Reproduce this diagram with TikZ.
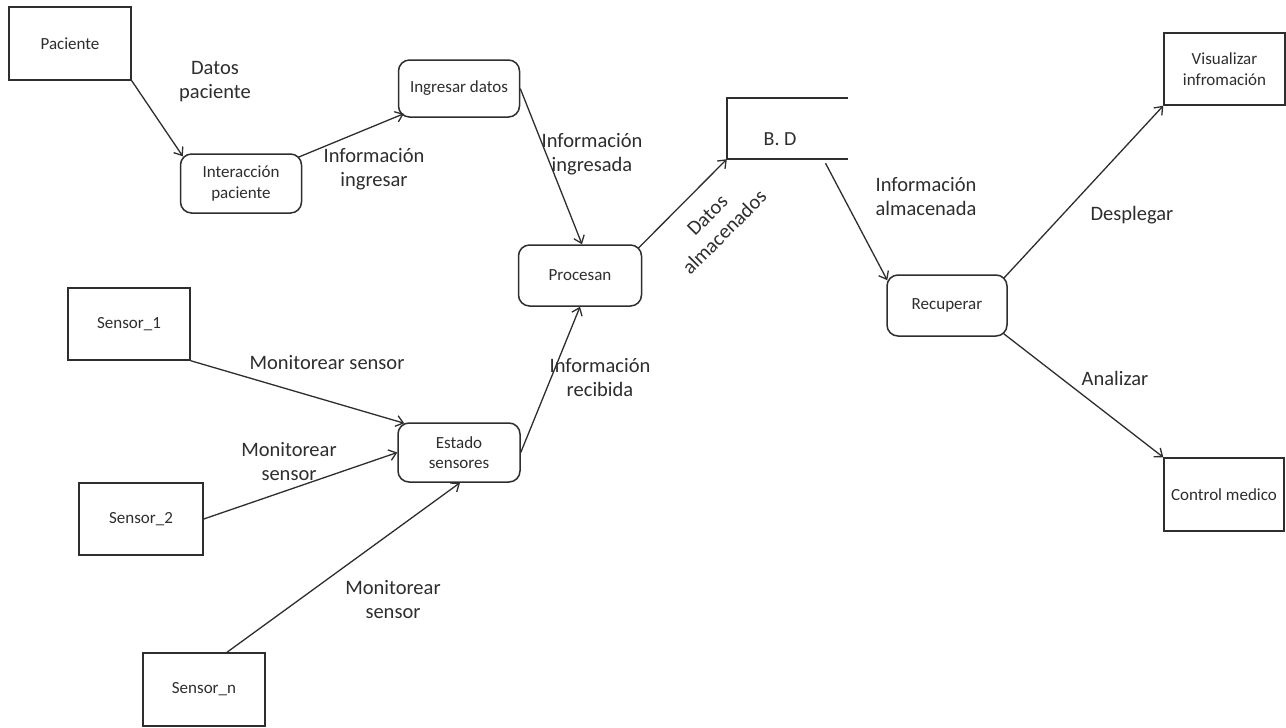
\documentclass[tikz,border=0pt]{standalone}
\usepackage{fontspec}
\setmainfont{Carlito}
\usetikzlibrary{arrows.meta,calc}
\definecolor{ink}{HTML}{2E2E2E}
\begin{document}
\begin{tikzpicture}[x=1pt,y=-1pt,
  ext/.style={draw=ink, line width=1.5pt, rectangle, minimum width=122pt, inner sep=0pt, align=center, font=\fontsize{17}{20.5}\selectfont, text=ink},
  proc/.style={draw=ink, line width=1.5pt, rectangle, rounded corners=11pt, minimum width=121pt, inner sep=0pt, align=center, font=\fontsize{17}{20.5}\selectfont, text=ink},
  lbl/.style={align=center, inner sep=0pt, font=\fontsize{20.5}{24}\selectfont, text=ink},
  arr/.style={draw=ink, line width=1.3pt, -{Straight Barb[length=7pt,width=11pt,line width=1.3pt]}}
]
\useasboundingbox (0,0) rectangle (1286,728);
\fill[white] (0,0) rectangle (1286,728);

% nodes
\node[ext, minimum height=73pt] (pac) at (70,43.5) {Paciente};
\node[proc, minimum height=59pt] (inter) at (241,183.5) {Interacción\\paciente};
\node[proc, minimum height=57pt] (ing) at (459,88.5) {Ingresar datos};
\node[proc, minimum height=61pt, minimum width=123pt] (pro) at (580,275.5) {Procesan};
\node[minimum width=121pt, minimum height=61pt, inner sep=0pt] (bd) at (787.5,128.5) {};
\node[lbl, font=\fontsize{20}{24}\selectfont] (bdt) at (780,139) {B. D};
\node[proc, minimum height=61pt, minimum width=120pt] (rec) at (947,305.5) {Recuperar};
\node[ext, minimum height=72pt, minimum width=121pt] (vis) at (1224.5,69) {Visualizar\\infromación};
\node[ext, minimum height=73pt, minimum width=120pt] (ctl) at (1224,494.5) {Control medico};
\node[ext, minimum height=72pt] (s1) at (129,324) {Sensor\_1};
\node[ext, minimum height=72pt, minimum width=124pt] (s2) at (141,519) {Sensor\_2};
\node[ext, minimum height=73pt] (sn) at (204,689.5) {Sensor\_n};
\node[proc, minimum height=59pt, minimum width=122pt] (est) at (459,452.5) {Estado\\sensores};

% data store lines
\draw[ink, line width=1.5pt] (bd.north east) -- (bd.north west) -- (bd.south west) -- (bd.south east);

% connectors
\draw[arr] (pac.south east) -- ([shift={(3,3)}]inter.north west);
\draw[arr] ([shift={(-4,4)}]inter.north east) -- ([shift={(6,-4)}]ing.south west);
\draw[arr] (ing.east) -- ([xshift=2pt]pro.north);
\draw[arr] ([shift={(-4,4)}]pro.north east) -- (bd.south west);
\draw[arr] ([shift={(38,4)}]bd.south) -- ([shift={(1,6)}]rec.north west);
\draw[arr] ([shift={(-4,4)}]rec.north east) -- (vis.south west);
\draw[arr] ([shift={(-4,-3)}]rec.south east) -- (ctl.north west);
\draw[arr] (s1.south east) -- ([shift={(7,1)}]est.north west);
\draw[arr] (s2.east) -- (est.west);
\draw[arr] ([xshift=23pt]sn.north) -- ([xshift=1pt]est.south);
\draw[arr] (est.east) -- (pro.south);

% labels
\node[lbl] (l1) at (215,82) {Datos\\paciente};
\node[lbl] (l2) at (374,169) {Información\\ingresar};
\node[lbl] (l3) at (592,154) {Información\\ingresada};
\node[lbl, rotate=45] (l4) at (716,224) {Datos\\almacenados};
\node[lbl] (l5) at (926,197) {Información\\almacenada};
\node[lbl] (l6) at (1132,215) {Desplegar};
\node[lbl] (l7) at (1115,378) {Analizar};
\node[lbl] (l8) at (327,363) {Monitorear sensor};
\node[lbl] (l9) at (289,462) {Monitorear\\sensor};
\node[lbl] (l10) at (393,600) {Monitorear\\sensor};
\node[lbl] (l11) at (600,378) {Información\\recibida};
\end{tikzpicture}
\end{document}
